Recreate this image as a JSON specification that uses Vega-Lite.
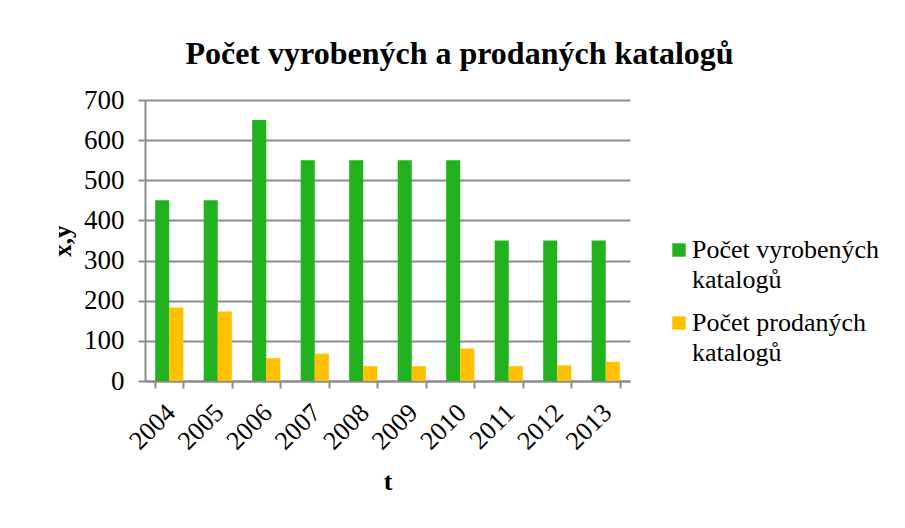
{
  "$schema": "https://vega.github.io/schema/vega-lite/v6.json",
  "width": 485,
  "height": 281,
  "autosize": {"type": "none"},
  "padding": {"left": 145, "top": 100, "right": 275, "bottom": 147},
  "background": "white",
  "title": {
    "text": "Počet vyrobených a prodaných katalogů",
    "font": "Liberation Serif",
    "fontSize": 32,
    "fontWeight": "bold",
    "color": "black",
    "anchor": "middle",
    "dx": 72,
    "offset": 15
  },
  "data": {
    "values": [
      {"t": "2004", "series": "Počet vyrobených katalogů", "value": 450},
      {"t": "2005", "series": "Počet vyrobených katalogů", "value": 450},
      {"t": "2006", "series": "Počet vyrobených katalogů", "value": 650},
      {"t": "2007", "series": "Počet vyrobených katalogů", "value": 550},
      {"t": "2008", "series": "Počet vyrobených katalogů", "value": 550},
      {"t": "2009", "series": "Počet vyrobených katalogů", "value": 550},
      {"t": "2010", "series": "Počet vyrobených katalogů", "value": 550},
      {"t": "2011", "series": "Počet vyrobených katalogů", "value": 350},
      {"t": "2012", "series": "Počet vyrobených katalogů", "value": 350},
      {"t": "2013", "series": "Počet vyrobených katalogů", "value": 350},
      {"t": "2004", "series": "Počet prodaných katalogů", "value": 183},
      {"t": "2005", "series": "Počet prodaných katalogů", "value": 173},
      {"t": "2006", "series": "Počet prodaných katalogů", "value": 57},
      {"t": "2007", "series": "Počet prodaných katalogů", "value": 68},
      {"t": "2008", "series": "Počet prodaných katalogů", "value": 37},
      {"t": "2009", "series": "Počet prodaných katalogů", "value": 37},
      {"t": "2010", "series": "Počet prodaných katalogů", "value": 81},
      {"t": "2011", "series": "Počet prodaných katalogů", "value": 37},
      {"t": "2012", "series": "Počet prodaných katalogů", "value": 39},
      {"t": "2013", "series": "Počet prodaných katalogů", "value": 48}
    ]
  },
  "mark": {"type": "bar"},
  "encoding": {
    "x": {
      "field": "t",
      "type": "nominal",
      "scale": {"paddingInner": 0.42, "paddingOuter": 0.21},
      "axis": {
        "title": "t",
        "titleFont": "Liberation Serif",
        "titleFontSize": 26,
        "titleFontWeight": "bold",
        "titleColor": "black",
        "titlePadding": 14,
        "labelAngle": -45,
        "labelFont": "Liberation Serif",
        "labelFontSize": 26,
        "labelColor": "black",
        "labelPadding": 11,
        "labelOffset": -8,
        "tickBand": "extent",
        "tickColor": "#8c8c8c",
        "tickWidth": 2,
        "tickSize": 7,
        "domainColor": "#8c8c8c",
        "domainWidth": 2
      }
    },
    "xOffset": {"field": "series", "type": "nominal", "sort": ["Počet vyrobených katalogů", "Počet prodaných katalogů"], "scale": {"paddingInner": 0, "paddingOuter": 0}},
    "y": {
      "field": "value",
      "type": "quantitative",
      "scale": {"domain": [0, 700], "nice": false},
      "axis": {
        "title": "x,y",
        "titleFont": "Liberation Serif",
        "titleFontSize": 25,
        "titleFontWeight": "bold",
        "titleColor": "black",
        "titlePadding": 8,
        "values": [0, 100, 200, 300, 400, 500, 600, 700],
        "labelFont": "Liberation Serif",
        "labelFontSize": 27,
        "labelColor": "black",
        "labelPadding": 14,
        "tickColor": "#8c8c8c",
        "tickWidth": 2,
        "tickSize": 7,
        "domainColor": "#8c8c8c",
        "domainWidth": 2,
        "grid": true,
        "gridColor": "#8c8c8c",
        "gridWidth": 2
      }
    },
    "color": {
      "field": "series",
      "type": "nominal",
      "sort": ["Počet vyrobených katalogů", "Počet prodaných katalogů"],
      "scale": {"range": ["#21b21e", "#ffc000"]},
      "legend": {
        "title": null,
        "orient": "none",
        "legendX": 521,
        "legendY": 137,
        "symbolType": "square",
        "symbolSize": 180,
        "symbolStrokeWidth": 0,
        "labelFont": "Liberation Serif",
        "labelFontSize": 26,
        "labelColor": "black",
        "labelLimit": 300,
        "labelOffset": 0,
        "rowPadding": 17,
        "labelExpr": "datum.label == 'Počet vyrobených katalogů' ? ['Počet vyrobených', 'katalogů'] : ['Počet prodaných', 'katalogů']",
        "encode": {
          "labels": {
            "update": {
              "lineHeight": {"value": 30}
            }
          }
        }
      }
    }
  },
  "config": {
    "view": {"stroke": null}
  }
}
